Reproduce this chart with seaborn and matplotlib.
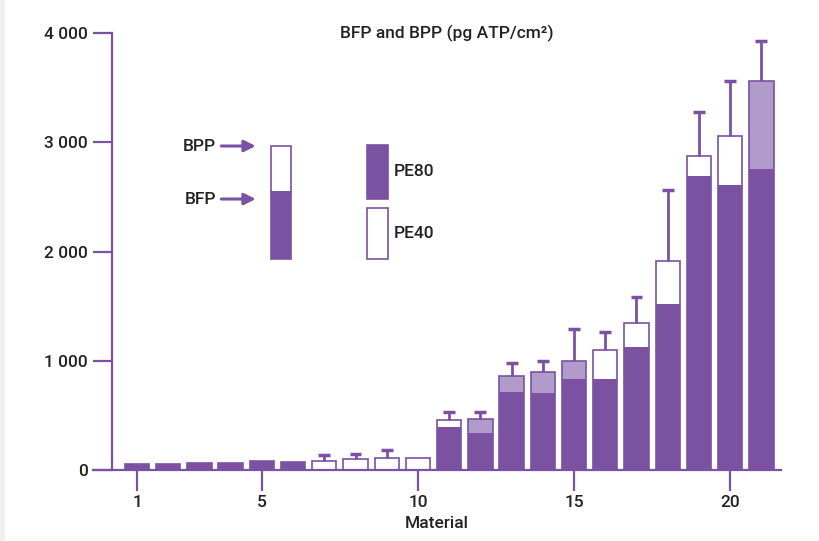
import numpy as np
import pandas as pd
import seaborn as sns
import matplotlib
matplotlib.use("Agg")
import matplotlib.pyplot as plt
from matplotlib.patches import Rectangle

# ---- data ----
material = list(range(1, 22))
bfp = [55, 55, 64, 64, 82, 73, 0, 0, 0, 0,
       395, 342, 717, 708, 830, 830, 1123, 1516, 2688, 2612, 2758]
total = [55, 55, 64, 64, 82, 73, 85, 98, 110, 110,
         460, 464, 863, 894, 998, 1101, 1348, 1910, 2877, 3060, 3558]
err_top = [np.nan] * 6 + [140, 144, 180, np.nan,
                          528, 528, 982, 998, 1291, 1260, 1586, 2563, 3277, 3563, 3927]
top_kind = ["dark"] * 6 + ["white"] * 5 + ["light"] * 4 + ["white"] * 5 + ["light"]
xticks = [1, 5, 10, 15, 20]
yticks = [0, 1000, 2000, 3000, 4000]

DARK = "#7B51A1"
LIGHT = "#B09BCB"
WHITE = "#FFFFFF"
TXT = "#222222"
FS = 12.5
kind_color = {"dark": DARK, "light": LIGHT, "white": WHITE}

df = pd.DataFrame({"Material": material, "BFP": bfp, "Total": total,
                   "kind": top_kind})
df["lab"] = df["Material"].astype(str)

sns.set_style("white")
plt.rcParams["font.family"] = ["Roboto", "DejaVu Sans"]
plt.rcParams["font.weight"] = "medium"
plt.rcParams["axes.labelweight"] = "medium"
plt.rcParams["text.color"] = TXT

fig = plt.figure(figsize=(8.19, 5.41), dpi=100)
ax = fig.add_axes([93 / 819, 71 / 541, 688 / 819, 437 / 541])

# totals (top segment colour)
pal_top = {l: kind_color[k] for l, k in zip(df["lab"], df["kind"])}
sns.barplot(data=df, x="Material", y="Total", hue="lab", palette=pal_top,
            native_scale=True, width=0.78, legend=False, ax=ax,
            edgecolor=DARK, linewidth=1.2, saturation=1)
# BFP bottom segment
sns.barplot(data=df, x="Material", y="BFP", color=DARK,
            native_scale=True, width=0.78, ax=ax,
            edgecolor=DARK, linewidth=0, saturation=1)

# upward-only error bars
m = np.array(material, dtype=float)
t = np.array(total, dtype=float)
e = np.array(err_top, dtype=float)
ok = ~np.isnan(e)
ax.vlines(m[ok], t[ok], e[ok], color=DARK, lw=2)
ax.hlines(e[ok], m[ok] - 0.19, m[ok] + 0.19, color=DARK, lw=2.5)

# axes styling
ax.set_xlim(-0.41, 21.63)
ax.set_ylim(0, 4000)
for s in ["top", "right"]:
    ax.spines[s].set_visible(False)
ax.spines["left"].set_position(("data", 0.2))
for s in ["left", "bottom"]:
    ax.spines[s].set_color(DARK)
    ax.spines[s].set_linewidth(1.6)
ax.set_xticks(xticks)
ax.set_xticklabels([str(v) for v in xticks])
ax.set_yticks(yticks)
ax.set_yticklabels([f"{v:,}".replace(",", " ") for v in yticks])
ax.tick_params(axis="both", direction="out", colors=DARK, labelcolor=TXT,
               labelsize=FS, width=1.6, bottom=True, left=True)
ax.tick_params(axis="y", length=13.5, pad=4)
ax.tick_params(axis="x", length=15, pad=3)
ax.set_xlabel("Material", fontsize=FS, color=TXT, labelpad=4,
              fontweight="medium")
ax.set_ylabel("")
ax.grid(False)

ax.text(0.5145, 1.0, "BFP and BPP (pg ATP/cm²)", transform=ax.transAxes,
        ha="center", va="center", fontsize=FS, color=TXT)

# custom legend
def box(x0, x1, y0, y1, fc):
    ax.add_patch(Rectangle((x0, y0), x1 - x0, y1 - y0, transform=ax.transAxes,
                           facecolor=fc, edgecolor=DARK, lw=1.2, clip_on=False))

box(0.2583, 0.2874, 0.6362, 0.7414, WHITE)
box(0.2583, 0.2874, 0.4835, 0.6362, DARK)
box(0.3987, 0.4288, 0.6208, 0.743, DARK)
box(0.3987, 0.4288, 0.4828, 0.5989, WHITE)
ax.text(0.437, 0.6826, "PE80", transform=ax.transAxes, ha="left", va="center",
        fontsize=FS)
ax.text(0.437, 0.5416, "PE40", transform=ax.transAxes, ha="left", va="center",
        fontsize=FS)
for lab, yy in [("BPP", 0.7414), ("BFP", 0.6201)]:
    ax.text(0.1788, yy, lab, transform=ax.transAxes, ha="right", va="center",
            fontsize=FS)
    ax.annotate("", xy=(0.2365, yy), xytext=(0.1865, yy),
                xycoords="axes fraction", textcoords="axes fraction",
                arrowprops=dict(arrowstyle="-|>", color=DARK, lw=2.2,
                                mutation_scale=17, shrinkA=0, shrinkB=0))

# thin grey strip at left edge of the image
fig.patches.append(Rectangle((0, 0), 5 / 819, 1, transform=fig.transFigure,
                             facecolor="#F0F0F0", edgecolor="none"))

fig.savefig("out.png", dpi=100)
